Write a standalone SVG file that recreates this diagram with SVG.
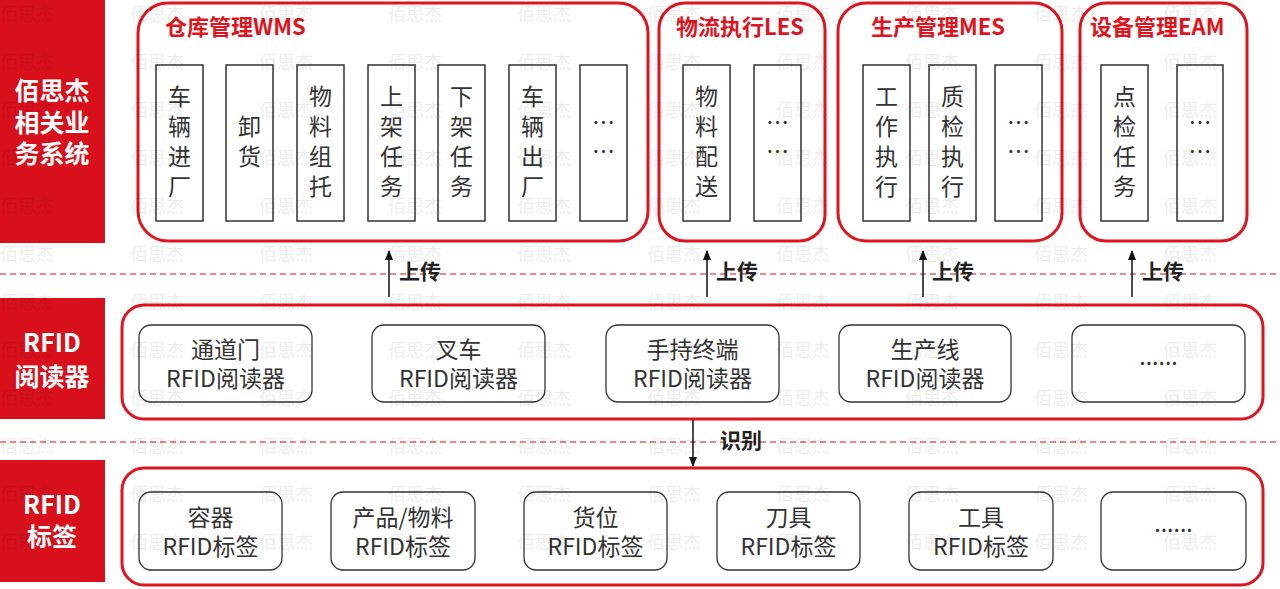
<svg xmlns="http://www.w3.org/2000/svg" width="1280" height="589" viewBox="0 0 1280 589">
<style>
text{font-family:"Noto Sans CJK SC","Noto Sans",sans-serif;}
.lbl{fill:#d8101c;}
.lbltx{fill:#fff;font-weight:bold;font-size:25px;text-anchor:middle;}
.cont{fill:none;stroke:#e0141e;stroke-width:3;}
.title{fill:#e0141e;font-weight:bold;font-size:22px;}
.vbox{fill:#fff;stroke:#333;stroke-width:1.5;}
.vt{fill:#333;font-size:23px;text-anchor:middle;}
.rbox{fill:#fff;stroke:#333;stroke-width:1.3;}
.rt{fill:#333;font-size:23px;text-anchor:middle;}
.dash{stroke:#e0606a;stroke-width:1.3;stroke-dasharray:6,4;}
.conn{stroke:#111;stroke-width:1.5;fill:none;}
.ctx{fill:#222;font-weight:bold;font-size:21px;}
.wm text{fill:#000;opacity:0.065;font-size:18px;}
</style>
<defs>
<marker id="ah" viewBox="0 0 10 10" refX="9" refY="5" markerWidth="7" markerHeight="7" orient="auto-start-reverse">
<path d="M0,1 L10,5 L0,9 z" fill="#111"/>
</marker>
</defs>
<rect width="1280" height="589" fill="#fff"/>

<g id="dividers">
<line class="dash" x1="0" y1="274" x2="1280" y2="274"/>
<line class="dash" x1="0" y1="442" x2="1280" y2="442"/>
</g>

<g id="label-systems">
<rect class="lbl" x="0" y="0" width="105" height="243"/>
<text class="lbltx" x="52" y="100">佰思杰</text>
<text class="lbltx" x="52" y="132">相关业</text>
<text class="lbltx" x="52" y="163">务系统</text>
</g>
<g id="label-reader">
<rect class="lbl" x="0" y="298" width="105" height="121"/>
<text class="lbltx" x="52" y="352">RFID</text>
<text class="lbltx" x="52" y="386">阅读器</text>
</g>
<g id="label-tag">
<rect class="lbl" x="0" y="460" width="105" height="122"/>
<text class="lbltx" x="52" y="514">RFID</text>
<text class="lbltx" x="52" y="546">标签</text>
</g>

<g id="wms">
<rect class="cont" x="138" y="3" width="510" height="238" rx="30"/>
<text class="title" x="165" y="35">仓库管理WMS</text>
<rect class="vbox" x="156" y="65" width="47" height="156"/>
<text class="vt"><tspan x="179.5" y="105">车</tspan><tspan x="179.5" y="135">辆</tspan><tspan x="179.5" y="165">进</tspan><tspan x="179.5" y="195">厂</tspan></text>
<rect class="vbox" x="226" y="65" width="47" height="156"/>
<text class="vt"><tspan x="249.5" y="135">卸</tspan><tspan x="249.5" y="165">货</tspan></text>
<rect class="vbox" x="297" y="65" width="47" height="156"/>
<text class="vt"><tspan x="320.5" y="105">物</tspan><tspan x="320.5" y="135">料</tspan><tspan x="320.5" y="165">组</tspan><tspan x="320.5" y="195">托</tspan></text>
<rect class="vbox" x="368" y="65" width="47" height="156"/>
<text class="vt"><tspan x="391.5" y="105">上</tspan><tspan x="391.5" y="135">架</tspan><tspan x="391.5" y="165">任</tspan><tspan x="391.5" y="195">务</tspan></text>
<rect class="vbox" x="438" y="65" width="47" height="156"/>
<text class="vt"><tspan x="461.5" y="105">下</tspan><tspan x="461.5" y="135">架</tspan><tspan x="461.5" y="165">任</tspan><tspan x="461.5" y="195">务</tspan></text>
<rect class="vbox" x="509" y="65" width="47" height="156"/>
<text class="vt"><tspan x="532.5" y="105">车</tspan><tspan x="532.5" y="135">辆</tspan><tspan x="532.5" y="165">出</tspan><tspan x="532.5" y="195">厂</tspan></text>
<rect class="vbox" x="580" y="65" width="47" height="156"/>
<text class="vt" font-size="16"><tspan x="603.5" y="131">…</tspan><tspan x="603.5" y="160">…</tspan></text>
</g>

<g id="les">
<rect class="cont" x="659" y="3" width="166" height="238" rx="26"/>
<text class="title" x="676" y="35">物流执行LES</text>
<rect class="vbox" x="683" y="65" width="47" height="156"/>
<text class="vt"><tspan x="706.5" y="105">物</tspan><tspan x="706.5" y="135">料</tspan><tspan x="706.5" y="165">配</tspan><tspan x="706.5" y="195">送</tspan></text>
<rect class="vbox" x="754" y="65" width="47" height="156"/>
<text class="vt" font-size="16"><tspan x="777.5" y="131">…</tspan><tspan x="777.5" y="160">…</tspan></text>
</g>

<g id="mes">
<rect class="cont" x="838" y="3" width="224" height="238" rx="28"/>
<text class="title" x="871" y="35">生产管理MES</text>
<rect class="vbox" x="863" y="65" width="47" height="156"/>
<text class="vt"><tspan x="886.5" y="105">工</tspan><tspan x="886.5" y="135">作</tspan><tspan x="886.5" y="165">执</tspan><tspan x="886.5" y="195">行</tspan></text>
<rect class="vbox" x="929" y="65" width="47" height="156"/>
<text class="vt"><tspan x="952.5" y="105">质</tspan><tspan x="952.5" y="135">检</tspan><tspan x="952.5" y="165">执</tspan><tspan x="952.5" y="195">行</tspan></text>
<rect class="vbox" x="995" y="65" width="47" height="156"/>
<text class="vt" font-size="16"><tspan x="1018.5" y="131">…</tspan><tspan x="1018.5" y="160">…</tspan></text>
</g>

<g id="eam">
<rect class="cont" x="1080" y="3" width="167" height="238" rx="26"/>
<text class="title" x="1090" y="35">设备管理EAM</text>
<rect class="vbox" x="1101" y="65" width="47" height="156"/>
<text class="vt"><tspan x="1124.5" y="105">点</tspan><tspan x="1124.5" y="135">检</tspan><tspan x="1124.5" y="165">任</tspan><tspan x="1124.5" y="195">务</tspan></text>
<rect class="vbox" x="1177" y="65" width="46" height="156"/>
<text class="vt" font-size="16"><tspan x="1200" y="131">…</tspan><tspan x="1200" y="160">…</tspan></text>
</g>

<g id="readers">
<rect class="cont" x="122" y="305" width="1141" height="114" rx="22"/>
<g id="reader-gate"><rect class="rbox" x="139" y="325" width="173" height="77" rx="12"/><text class="rt"><tspan x="225.5" y="358">通道门</tspan><tspan x="225.5" y="387">RFID阅读器</tspan></text></g>
<g id="reader-forklift"><rect class="rbox" x="372" y="325" width="173" height="77" rx="12"/><text class="rt"><tspan x="458.5" y="358">叉车</tspan><tspan x="458.5" y="387">RFID阅读器</tspan></text></g>
<g id="reader-handheld"><rect class="rbox" x="606" y="325" width="173" height="77" rx="12"/><text class="rt"><tspan x="692.5" y="358">手持终端</tspan><tspan x="692.5" y="387">RFID阅读器</tspan></text></g>
<g id="reader-line"><rect class="rbox" x="839" y="325" width="172" height="77" rx="12"/><text class="rt"><tspan x="925" y="358">生产线</tspan><tspan x="925" y="387">RFID阅读器</tspan></text></g>
<g id="reader-more"><rect class="rbox" x="1072" y="325" width="173" height="77" rx="12"/><text class="rt" font-size="14" x="1158.5" y="365">......</text></g>
</g>

<g id="tags">
<rect class="cont" x="122" y="468" width="1141" height="117" rx="22"/>
<g id="tag-container"><rect class="rbox" x="139" y="492" width="143" height="78" rx="12"/><text class="rt"><tspan x="210.5" y="526">容器</tspan><tspan x="210.5" y="555">RFID标签</tspan></text></g>
<g id="tag-product"><rect class="rbox" x="331" y="492" width="144" height="78" rx="12"/><text class="rt"><tspan x="403" y="526">产品/物料</tspan><tspan x="403" y="555">RFID标签</tspan></text></g>
<g id="tag-location"><rect class="rbox" x="524" y="492" width="143" height="78" rx="12"/><text class="rt"><tspan x="595.5" y="526">货位</tspan><tspan x="595.5" y="555">RFID标签</tspan></text></g>
<g id="tag-tool"><rect class="rbox" x="717" y="492" width="143" height="78" rx="12"/><text class="rt"><tspan x="788.5" y="526">刀具</tspan><tspan x="788.5" y="555">RFID标签</tspan></text></g>
<g id="tag-gear"><rect class="rbox" x="909" y="492" width="144" height="78" rx="12"/><text class="rt"><tspan x="981" y="526">工具</tspan><tspan x="981" y="555">RFID标签</tspan></text></g>
<g id="tag-more"><rect class="rbox" x="1101" y="492" width="145" height="78" rx="12"/><text class="rt" font-size="14" x="1173.5" y="532">......</text></g>
</g>

<g id="connectors">
<line class="conn" x1="389" y1="297" x2="389" y2="251" marker-end="url(#ah)"/>
<line class="conn" x1="707" y1="297" x2="707" y2="251" marker-end="url(#ah)"/>
<line class="conn" x1="923" y1="297" x2="923" y2="251" marker-end="url(#ah)"/>
<line class="conn" x1="1132" y1="297" x2="1132" y2="251" marker-end="url(#ah)"/>
<line class="conn" x1="693" y1="420" x2="693" y2="466" marker-end="url(#ah)"/>
<text class="ctx" x="399" y="279">上传</text>
<text class="ctx" x="716" y="279">上传</text>
<text class="ctx" x="932" y="279">上传</text>
<text class="ctx" x="1142" y="279">上传</text>
<text class="ctx" x="720" y="448">识别</text>
</g>

<g id="watermark" class="wm">
<text x="0" y="21">佰思杰</text><text x="130" y="21">佰思杰</text><text x="259" y="21">佰思杰</text><text x="388" y="21">佰思杰</text><text x="517" y="21">佰思杰</text><text x="647" y="21">佰思杰</text><text x="776" y="21">佰思杰</text><text x="905" y="21">佰思杰</text><text x="1034" y="21">佰思杰</text><text x="1163" y="21">佰思杰</text>
<text x="0" y="69">佰思杰</text><text x="130" y="69">佰思杰</text><text x="259" y="69">佰思杰</text><text x="388" y="69">佰思杰</text><text x="517" y="69">佰思杰</text><text x="647" y="69">佰思杰</text><text x="776" y="69">佰思杰</text><text x="905" y="69">佰思杰</text><text x="1034" y="69">佰思杰</text><text x="1163" y="69">佰思杰</text>
<text x="0" y="117">佰思杰</text><text x="130" y="117">佰思杰</text><text x="259" y="117">佰思杰</text><text x="388" y="117">佰思杰</text><text x="517" y="117">佰思杰</text><text x="647" y="117">佰思杰</text><text x="776" y="117">佰思杰</text><text x="905" y="117">佰思杰</text><text x="1034" y="117">佰思杰</text><text x="1163" y="117">佰思杰</text>
<text x="0" y="165">佰思杰</text><text x="130" y="165">佰思杰</text><text x="259" y="165">佰思杰</text><text x="388" y="165">佰思杰</text><text x="517" y="165">佰思杰</text><text x="647" y="165">佰思杰</text><text x="776" y="165">佰思杰</text><text x="905" y="165">佰思杰</text><text x="1034" y="165">佰思杰</text><text x="1163" y="165">佰思杰</text>
<text x="0" y="213">佰思杰</text><text x="130" y="213">佰思杰</text><text x="259" y="213">佰思杰</text><text x="388" y="213">佰思杰</text><text x="517" y="213">佰思杰</text><text x="647" y="213">佰思杰</text><text x="776" y="213">佰思杰</text><text x="905" y="213">佰思杰</text><text x="1034" y="213">佰思杰</text><text x="1163" y="213">佰思杰</text>
<text x="0" y="261">佰思杰</text><text x="130" y="261">佰思杰</text><text x="259" y="261">佰思杰</text><text x="388" y="261">佰思杰</text><text x="517" y="261">佰思杰</text><text x="647" y="261">佰思杰</text><text x="776" y="261">佰思杰</text><text x="905" y="261">佰思杰</text><text x="1034" y="261">佰思杰</text><text x="1163" y="261">佰思杰</text>
<text x="0" y="309">佰思杰</text><text x="130" y="309">佰思杰</text><text x="259" y="309">佰思杰</text><text x="388" y="309">佰思杰</text><text x="517" y="309">佰思杰</text><text x="647" y="309">佰思杰</text><text x="776" y="309">佰思杰</text><text x="905" y="309">佰思杰</text><text x="1034" y="309">佰思杰</text><text x="1163" y="309">佰思杰</text>
<text x="0" y="357">佰思杰</text><text x="130" y="357">佰思杰</text><text x="259" y="357">佰思杰</text><text x="388" y="357">佰思杰</text><text x="517" y="357">佰思杰</text><text x="647" y="357">佰思杰</text><text x="776" y="357">佰思杰</text><text x="905" y="357">佰思杰</text><text x="1034" y="357">佰思杰</text><text x="1163" y="357">佰思杰</text>
<text x="0" y="405">佰思杰</text><text x="130" y="405">佰思杰</text><text x="259" y="405">佰思杰</text><text x="388" y="405">佰思杰</text><text x="517" y="405">佰思杰</text><text x="647" y="405">佰思杰</text><text x="776" y="405">佰思杰</text><text x="905" y="405">佰思杰</text><text x="1034" y="405">佰思杰</text><text x="1163" y="405">佰思杰</text>
<text x="0" y="453">佰思杰</text><text x="130" y="453">佰思杰</text><text x="259" y="453">佰思杰</text><text x="388" y="453">佰思杰</text><text x="517" y="453">佰思杰</text><text x="647" y="453">佰思杰</text><text x="776" y="453">佰思杰</text><text x="905" y="453">佰思杰</text><text x="1034" y="453">佰思杰</text><text x="1163" y="453">佰思杰</text>
<text x="0" y="501">佰思杰</text><text x="130" y="501">佰思杰</text><text x="259" y="501">佰思杰</text><text x="388" y="501">佰思杰</text><text x="517" y="501">佰思杰</text><text x="647" y="501">佰思杰</text><text x="776" y="501">佰思杰</text><text x="905" y="501">佰思杰</text><text x="1034" y="501">佰思杰</text><text x="1163" y="501">佰思杰</text>
<text x="0" y="549">佰思杰</text><text x="130" y="549">佰思杰</text><text x="259" y="549">佰思杰</text><text x="388" y="549">佰思杰</text><text x="517" y="549">佰思杰</text><text x="647" y="549">佰思杰</text><text x="776" y="549">佰思杰</text><text x="905" y="549">佰思杰</text><text x="1034" y="549">佰思杰</text><text x="1163" y="549">佰思杰</text>
</g>
</svg>
